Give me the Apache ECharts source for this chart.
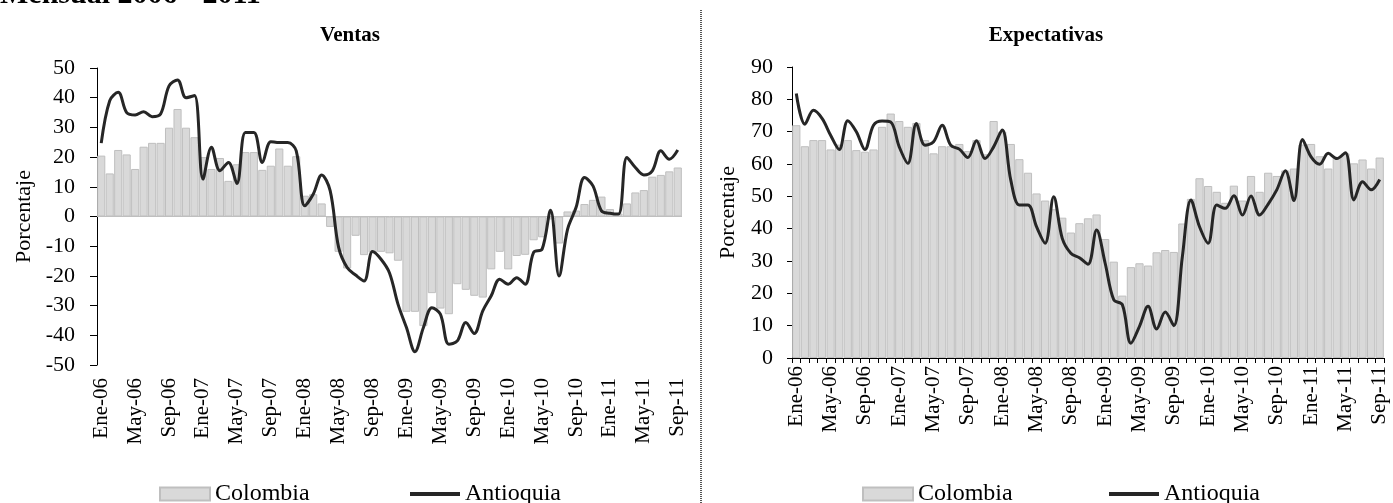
<!DOCTYPE html>
<html>
<head>
<meta charset="utf-8">
<script src="https://cdn.jsdelivr.net/npm/echarts@6/dist/echarts.min.js"></script>
<style>
html,body{margin:0;padding:0;background:#fff;}
#c{width:1393px;height:503px;}
</style>
</head>
<body>
<div id="c"></div>
<script>
// ---- Data ----
const monthNames = ['Ene','Feb','Mar','Abr','May','Jun','Jul','Ago','Sep','Oct','Nov','Dic'];
const years = ['06','07','08','09','10','11'];
const categories = [];
years.forEach(function (y, yi) {
  monthNames.forEach(function (m, mi) {
    if (yi === 5 && mi > 8) return;
    categories.push(m + '-' + y);
  });
});

const ventasColombia = [20.5,14.5,22.4,20.9,16,23.5,24.8,24.8,29.9,36.2,29.9,26.7,
  20,16,19.7,12,17.6,21.7,21.7,15.7,17.1,22.9,17.1,20.3,
  7,7.5,4.4,-3.5,-11.9,-17.5,-6.5,-13,-12.1,-11.9,-12.4,-14.9,
  -32.1,-32.1,-36.9,-25.8,-31,-32.9,-22.8,-24.7,-26.7,-27.3,-17.8,-11.9,
  -17.8,-13.3,-12.9,-8,-7,-1,-9.1,1.7,2,4.2,5.6,6.7,
  2.5,1,4.4,8.1,8.9,13.4,14,15.2,16.5];
const ventasAntioquia = [24.7,39,41.8,35,34.2,35.3,33.6,34.5,44,46,40,40.7,
  12.6,23.3,15.4,18.2,11.1,28.3,28.3,18.2,25.2,24.9,24.9,22.1,
  3.6,7.5,14,8.7,-10.4,-17.2,-19.7,-21.7,-11.8,-14.4,-19,-29.5,
  -37.4,-45.5,-37.4,-30.7,-32.9,-43,-41.9,-35.7,-39.4,-31.8,-26.7,-21.1,
  -22.8,-20.6,-22.8,-12.1,-11,2.1,-20,-4.3,3,13.1,10.3,1.9,
  1.1,0.8,19.9,16.5,14,15.4,22.1,19.3,22.4];
const expColombia = [72,65.5,67.4,67.4,64.5,66,67.4,64.3,63.8,64.5,71.5,75.6,
  73.3,71.5,72.7,67.4,63.3,65.5,65.5,66.2,64,67.4,63,73.3,
  70,66.2,61.5,57.3,50.9,48.7,46,43.4,38.8,41.7,43.2,44.4,
  36.8,29.8,19.3,28.1,29.3,28.6,32.7,33.4,32.8,41.6,49.2,55.6,
  53.2,51.4,48,53.3,48.7,56.3,51.4,57.3,56.3,58,58.6,66,
  66.2,62.4,58.6,62.2,63.3,60.2,61.4,58.6,62];
const expAntioquia = [81.8,72.3,76.6,74.1,68.9,64.5,73.4,70,64.5,72,73.3,73,
  65.3,60.2,72.5,65.8,66.9,72,65.8,64.6,62,67.2,61.7,65.3,
  70.5,55,47.3,47.3,40.6,35.5,49.9,37,32.4,31,29,39.6,
  29.3,18,16.5,4.6,9.8,16,9,14.2,10,31.4,48.9,40.6,
  35.5,47.3,46.3,50.2,44.2,50.1,44.2,47.6,52,57.9,48.7,67.6,
  62.2,59.9,63.3,61.7,63.5,48.9,54.5,52,55.2];

const ventasTicks = {min: -50, max: 50, interval: 10};
const expTicks = {min: 0, max: 90, interval: 10};

// ---- Chart ----
const FONT = 'Liberation Serif';
const chart = echarts.init(document.getElementById('c'), null, {renderer: 'canvas'});

const barStyle = {color: '#d9d9d9', borderColor: '#bfbfbf', borderWidth: 1};
const lineStyle = {color: '#262626', width: 3};

function xAxisCfg(grid, showTicks, labelMargin) {
  return {
    type: 'category', gridIndex: grid, data: categories,
    boundaryGap: true,
    axisLine: {show: showTicks, onZero: false, lineStyle: {color: '#000', width: 1}},
    axisTick: {show: showTicks, interval: 0, length: 5, lineStyle: {color: '#000'}},
    axisLabel: {interval: 3, rotate: 90, margin: labelMargin, color: '#000', fontFamily: FONT, fontSize: 21},
    splitLine: {show: false}
  };
}
function yAxisCfg(grid, t, nameGap, labelMargin, tickLen) {
  return {
    type: 'value', gridIndex: grid, min: t.min, max: t.max, interval: t.interval,
    name: 'Porcentaje', nameLocation: 'middle', nameGap: nameGap,
    nameTextStyle: {color: '#000', fontFamily: FONT, fontSize: 22},
    axisLine: {show: true, lineStyle: {color: '#000', width: 1}},
    axisTick: {show: true, length: tickLen, lineStyle: {color: '#000'}},
    axisLabel: {color: '#000', fontFamily: FONT, fontSize: 22, margin: labelMargin},
    splitLine: {show: false}
  };
}
function legendCfg(item, left) {
  return {
    data: [item], left: left, top: 477, itemWidth: 50, itemHeight: item.h, itemGap: 0,
    textStyle: {color: '#000', fontFamily: FONT, fontSize: 24},
    selectedMode: false
  };
}
const colLegend = {name: 'Colombia', icon: 'rect', h: 13};
const antLegend = {name: 'Antioquia', icon: 'rect', h: 4, itemStyle: {color: '#262626', borderWidth: 0}};

chart.setOption({
  animation: false,
  backgroundColor: '#fff',
  title: [
    {text: 'Mensual 2006 - 2011', left: 0, top: -20, padding: 0,
      textStyle: {fontFamily: FONT, fontSize: 30, fontWeight: 'bold', color: '#000'}},
    {text: 'Ventas', left: 350, top: 25, textAlign: 'center', padding: 0,
      textStyle: {fontFamily: FONT, fontSize: 21, fontWeight: 'bold', color: '#000'}},
    {text: 'Expectativas', left: 1046, top: 25, textAlign: 'center', padding: 0,
      textStyle: {fontFamily: FONT, fontSize: 21, fontWeight: 'bold', color: '#000'}}
  ],
  legend: [
    legendCfg(colLegend, 154),
    legendCfg(antLegend, 405),
    legendCfg(colLegend, 857),
    legendCfg(antLegend, 1104)
  ],
  grid: [
    {left: 97, right: 711, top: 68, bottom: 138, containLabel: false},
    {left: 792, right: 9, top: 67, bottom: 145, containLabel: false}
  ],
  xAxis: [xAxisCfg(0, false, 13), xAxisCfg(1, true, 8)],
  yAxis: [yAxisCfg(0, ventasTicks, 62, 22, 7), yAxisCfg(1, expTicks, 53, 19, 5)],
  graphic: [
    {type: 'line', shape: {x1: 701, y1: 10, x2: 701, y2: 503}, silent: true,
      style: {stroke: '#555', lineWidth: 2, lineDash: [1, 1]}}
  ],
  series: [
    {name: 'Colombia', type: 'bar', xAxisIndex: 0, yAxisIndex: 0, data: ventasColombia,
      barCategoryGap: '4%', itemStyle: barStyle,
      markLine: {silent: true, symbol: 'none', label: {show: false},
        lineStyle: {color: '#bfbfbf', width: 1, type: 'solid'},
        data: [{yAxis: 0}]}},
    {name: 'Antioquia', type: 'line', xAxisIndex: 0, yAxisIndex: 0, data: ventasAntioquia,
      smooth: 0.35, symbol: 'none', showSymbol: false, lineStyle: lineStyle, itemStyle: {color: '#262626'}, z: 5},
    {name: 'Colombia', type: 'bar', xAxisIndex: 1, yAxisIndex: 1, data: expColombia,
      barCategoryGap: '4%', itemStyle: barStyle},
    {name: 'Antioquia', type: 'line', xAxisIndex: 1, yAxisIndex: 1, data: expAntioquia,
      smooth: 0.35, symbol: 'none', showSymbol: false, lineStyle: lineStyle, itemStyle: {color: '#262626'}, z: 5}
  ]
});
</script>
</body>
</html>
